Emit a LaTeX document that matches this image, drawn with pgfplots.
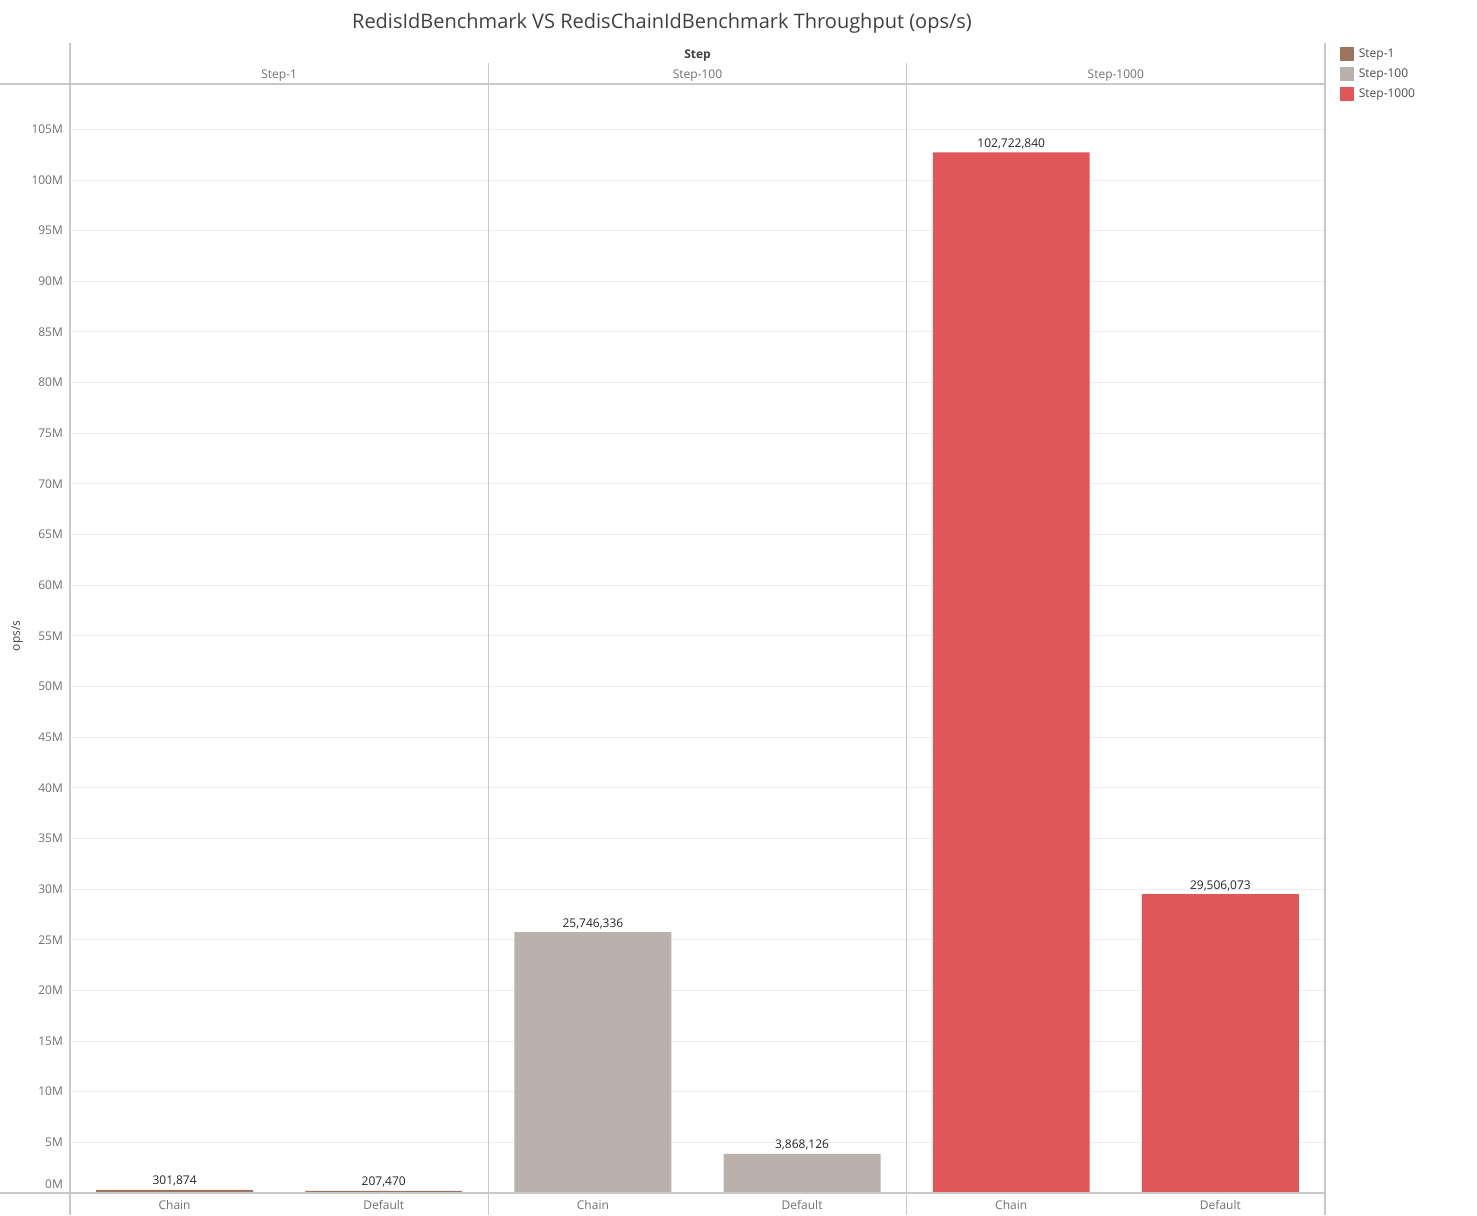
\documentclass[border=0pt]{standalone}
\usepackage{pgfplots}
\pgfplotsset{compat=1.18}
\usepackage{fontspec}
\setmainfont{Open Sans}
\definecolor{sone}{HTML}{9C755F}
\definecolor{shund}{HTML}{BAB0AC}
\definecolor{sthou}{HTML}{E15759}
\definecolor{txt}{HTML}{707070}
\definecolor{rulec}{HTML}{C8C8C8}
\definecolor{gridc}{HTML}{EFEFEF}
\newcommand{\sm}{\fontsize{6}{7}\selectfont}
\begin{document}
\begin{tikzpicture}
\useasboundingbox (-35pt,-11pt) rectangle (703.5pt,596.5pt);
\begin{axis}[
  at={(0pt,0pt)}, anchor=south west,
  scale only axis, width=627.5pt, height=554.5pt,
  xmin=0, xmax=6, ymin=0, ymax=109.48,
  axis line style={draw=none},
  major tick length=0pt,
  /pgf/number format/assume math mode=true,
  xtick={0.5,1.5,2.5,3.5,4.5,5.5},
  xticklabels={Chain,Default,Chain,Default,Chain,Default},
  ytick={5,10,...,105},
  yticklabel={\pgfmathprintnumber{\tick}M},
  extra y ticks={0},
  extra y tick labels={0M},
  extra y tick style={yticklabel style={yshift=4.5pt}, ymajorgrids=false},
  ymajorgrids, grid style={gridc, line width=0.5pt},
  tick label style={font=\sm, text=txt},
  xticklabel style={yshift=0pt},
  clip=false,
  ybar, bar width=0.75,
  nodes near coords, point meta=explicit symbolic,
  every node near coord/.append style={font=\sm, text=black!85, inner sep=2pt, yshift=-0.5pt},
  legend style={at={(1.0115,1.0334)}, anchor=north west, draw=none, fill=none,
    inner sep=0pt, font=\sm, text=black!70, row sep=3pt,
    nodes={inner sep=0pt, text height=5pt, text depth=2pt}},
  legend cell align=left,
  legend image code/.code={\fill[#1, draw=none] (0pt,-3.5pt) rectangle (7pt,3.5pt); \path (9.5pt,0pt);},
]
\addplot[fill=sone, draw=none, bar shift=0pt] coordinates {(0.5,0.301874) [{301,874}] (1.5,0.207470) [{207,470}]};
\addlegendentry{Step-1}
\addplot[fill=shund, draw=none, bar shift=0pt] coordinates {(2.5,25.746336) [{25,746,336}] (3.5,3.868126) [{3,868,126}]};
\addlegendentry{Step-100}
\addplot[fill=sthou, draw=none, bar shift=0pt] coordinates {(4.5,102.722840) [{102,722,840}] (5.5,29.506073) [{29,506,073}]};
\addlegendentry{Step-1000}
\end{axis}
% frame lines
\draw[rulec, line width=0.6pt] (-35pt,554.5pt) -- (627.5pt,554.5pt);
\draw[rulec, line width=0.6pt] (-35pt,0pt) -- (627.5pt,0pt);
\draw[rulec, line width=0.6pt] (0pt,575pt) -- (0pt,-11pt);
\draw[rulec, line width=0.6pt] (627.5pt,575pt) -- (627.5pt,-11pt);
\draw[rulec, line width=0.6pt] (209.17pt,565pt) -- (209.17pt,-11pt);
\draw[rulec, line width=0.6pt] (418.33pt,565pt) -- (418.33pt,-11pt);
% headers
\node[font=\fontsize{10}{12}\selectfont, text=black!75] at (296pt,585pt) {RedisIdBenchmark VS RedisChainIdBenchmark Throughput (ops/s)};
\node[font=\sm\bfseries, text=black!75] at (313.75pt,568.5pt) {Step};
\node[font=\sm, text=txt] at (104.58pt,558.5pt) {Step-1};
\node[font=\sm, text=txt] at (313.75pt,558.5pt) {Step-100};
\node[font=\sm, text=txt] at (522.9pt,558.5pt) {Step-1000};
\node[font=\sm, text=black!75, rotate=90] at (-26.5pt,278.5pt) {ops/s};
\end{tikzpicture}
\end{document}
